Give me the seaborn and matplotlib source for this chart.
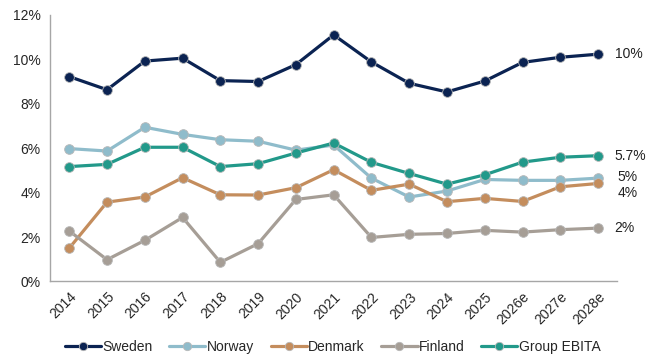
import numpy as np
import pandas as pd
import seaborn as sns
import matplotlib.pyplot as plt
from matplotlib.lines import Line2D
from matplotlib.ticker import FixedLocator, FuncFormatter

years = ["2014", "2015", "2016", "2017", "2018", "2019", "2020", "2021",
         "2022", "2023", "2024", "2025", "2026e", "2027e", "2028e"]

sweden = [9.22, 8.63, 9.92, 10.05, 9.04, 9.00, 9.76, 11.1, 9.88, 8.92, 8.53, 9.02, 9.86, 10.09, 10.23]
norway = [5.98, 5.87, 6.94, 6.62, 6.38, 6.31, 5.91, 6.14, 4.65, 3.80, 4.07, 4.59, 4.55, 4.55, 4.65]
denmark = [1.50, 3.57, 3.80, 4.67, 3.90, 3.89, 4.22, 5.03, 4.10, 4.38, 3.59, 3.74, 3.60, 4.26, 4.41]
finland = [2.27, 0.98, 1.85, 2.88, 0.86, 1.70, 3.69, 3.90, 1.98, 2.12, 2.16, 2.30, 2.22, 2.33, 2.40]
group = [5.17, 5.27, 6.04, 6.04, 5.17, 5.30, 5.78, 6.23, 5.36, 4.86, 4.38, 4.80, 5.37, 5.59, 5.66]

series = ["Sweden", "Norway", "Denmark", "Finland", "Group EBITA"]
colors = ["#0b2352", "#8fbccb", "#c48d5d", "#a69e96", "#22998a"]
end_labels = ["10%", "5%", "4%", "2%", "5.7%"]

df = pd.DataFrame({"year": years, "Sweden": sweden, "Norway": norway,
                   "Denmark": denmark, "Finland": finland, "Group EBITA": group})
df["pos"] = np.arange(len(years))
long = df.melt(id_vars=["year", "pos"], value_vars=series, var_name="series", value_name="margin")

sns.set_style("white")
plt.rcParams["font.family"] = ["Liberation Sans", "DejaVu Sans"]

fig, ax = plt.subplots(figsize=(6.46, 3.54), dpi=100)
fig.subplots_adjust(left=0.078, right=0.955, top=0.958, bottom=0.205)

sns.lineplot(data=long, x="pos", y="margin", hue="series", hue_order=series,
             palette=colors, marker="o", markersize=7, linewidth=2.3,
             markeredgecolor="#b8b8b8", markeredgewidth=0.6, ax=ax, legend=False)

# labels at the end of the lines
offsets = {"Sweden": (12, 0), "Norway": (14, 1), "Denmark": (14, -7),
           "Finland": (12, 0), "Group EBITA": (12, 0)}
for name, lab in zip(series, end_labels):
    val = df[name].iloc[-1]
    ax.annotate(lab, xy=(len(years) - 1, val), xytext=offsets[name],
                textcoords="offset points", va="center", ha="left",
                fontsize=10, color="#222222", annotation_clip=False)

ax.set_xlim(-0.5, len(years) - 0.5)
ax.set_ylim(0, 12)
ax.set_yticks(np.arange(0, 13, 2))
ax.yaxis.set_major_formatter(FuncFormatter(lambda v, p: f"{v:.0f}%"))
ax.set_xticks(df["pos"])
ax.set_xticklabels(years, rotation=45, ha="right", rotation_mode="anchor")
ax.xaxis.set_minor_locator(FixedLocator(np.arange(-0.5, len(years), 1)))
ax.tick_params(axis="x", which="major", length=0, pad=6, labelsize=10)
ax.tick_params(axis="x", which="minor", length=4, color="#a6a6a6", direction="out")
ax.tick_params(axis="y", length=4, color="#a6a6a6", direction="out", labelsize=10, pad=3)
ax.set_xlabel("")
ax.set_ylabel("")

for side in ["top", "right"]:
    ax.spines[side].set_visible(False)
for side in ["left", "bottom"]:
    ax.spines[side].set_color("#a6a6a6")
    ax.spines[side].set_linewidth(1.0)

handles = [Line2D([0], [0], color=c, lw=2.3, marker="o", markersize=6,
                  markeredgecolor="#b8b8b8", markeredgewidth=0.6) for c in colors]
fig.legend(handles, series, loc="lower center", ncol=5, frameon=False,
           bbox_to_anchor=(0.515, -0.035), fontsize=10, handlelength=2.6,
           handletextpad=0.1, columnspacing=1.2)

fig.savefig("out.png", dpi=100)
